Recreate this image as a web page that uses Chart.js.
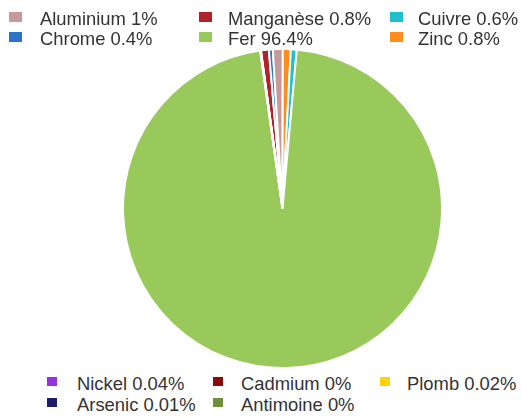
<!DOCTYPE html>
<html>
<head>
<meta charset="utf-8">
<script src="https://cdn.jsdelivr.net/npm/chart.js@4"></script>
<style>
  html, body { margin: 0; padding: 0; background: #ffffff; }
  #wrap { position: relative; width: 521px; height: 419px; overflow: hidden; }
  #pie { position: absolute; left: 122px; top: 48px; }
  .lg-box { position: absolute; }
  .lg-text {
    position: absolute; white-space: nowrap;
    font-family: "Liberation Sans", Arial, sans-serif;
    font-size: 18.4px; line-height: 18.4px; color: #333333;
  }
</style>
</head>
<body>
<div id="wrap">
  <canvas id="pie" width="321" height="321"></canvas>
</div>
<script>
// Composition of the alloy, in percent (clockwise from the top)
const elements = ['Manganèse', 'Chrome', 'Aluminium', 'Zinc', 'Cuivre', 'Fer',
                  'Nickel', 'Cadmium', 'Plomb', 'Arsenic', 'Antimoine'];
const percents = [0.8, 0.4, 1, 0.8, 0.6, 96.4, 0.04, 0, 0.02, 0.01, 0];
const colours  = ['#b0232b', '#2b74c6', '#c49b9b', '#ff8d1c', '#1fbfcb', '#99c95a',
                  '#9334e0', '#8a0a0a', '#fdd20e', '#1c1c6a', '#6e8f3c'];

// Legend layout: element names in display order for the two legend blocks
const topLegend    = ['Aluminium', 'Manganèse', 'Cuivre', 'Chrome', 'Fer', 'Zinc'];
const bottomLegend = ['Nickel', 'Cadmium', 'Plomb', 'Arsenic', 'Antimoine'];

new Chart(document.getElementById('pie'), {
  type: 'pie',
  data: {
    labels: elements,
    datasets: [{
      data: percents,
      backgroundColor: colours,
      borderColor: '#ffffff',
      borderWidth: 2
    }]
  },
  options: {
    responsive: false,
    animation: false,
    events: [],
    rotation: -7.8,
    layout: { padding: 0 },
    plugins: {
      legend: { display: false },
      tooltip: { enabled: false }
    }
  }
});

// HTML legends built from the same arrays
const wrap = document.getElementById('wrap');
function addLegend(names, cols, rows, box) {
  names.forEach((name, i) => {
    const idx = elements.indexOf(name);
    const c = i % 3, r = Math.floor(i / 3);
    const b = document.createElement('div');
    b.className = 'lg-box';
    b.style.left = cols.box[c] + 'px';
    b.style.top = rows.box[r] + 'px';
    b.style.width = box.w + 'px';
    b.style.height = box.h + 'px';
    b.style.background = colours[idx];
    wrap.appendChild(b);
    const t = document.createElement('div');
    t.className = 'lg-text';
    t.style.left = cols.text[c] + 'px';
    t.style.top = rows.text[r] + 'px';
    t.textContent = name + ' ' + percents[idx] + '%';
    wrap.appendChild(t);
  });
}
addLegend(topLegend,
  { box: [9, 199, 390], text: [40, 228, 418] },
  { box: [12, 32], text: [9.5, 30] },
  { w: 13, h: 10 });
addLegend(bottomLegend,
  { box: [47, 213, 380], text: [77, 241, 407] },
  { box: [377, 398], text: [374.5, 395.5] },
  { w: 10, h: 9 });
</script>
</body>
</html>
